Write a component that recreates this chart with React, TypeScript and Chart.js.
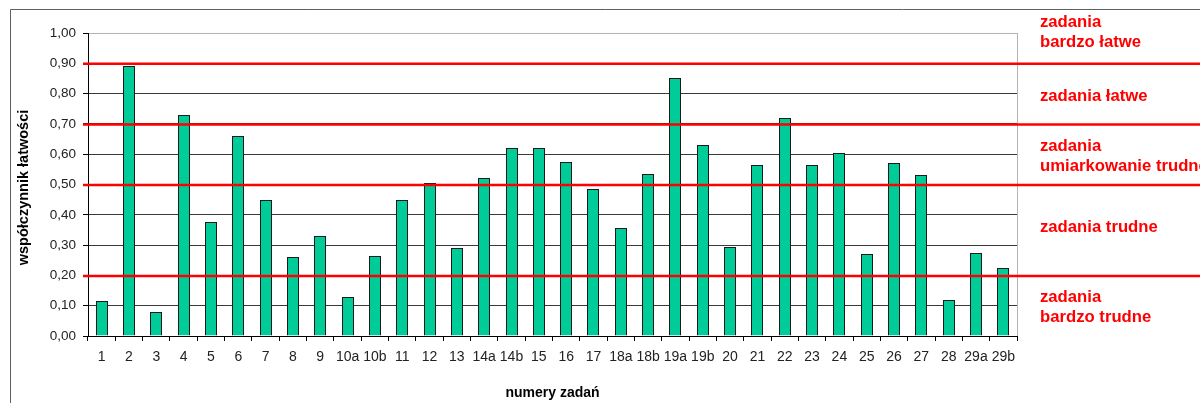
import React, { useEffect, useRef } from "react";
import { Chart, registerables } from "chart.js";

Chart.register(...registerables);

const CATEGORIES = [
  "1", "2", "3", "4", "5", "6", "7", "8", "9", "10a", "10b", "11", "12", "13",
  "14a", "14b", "15", "16", "17", "18a", "18b", "19a", "19b", "20", "21", "22",
  "23", "24", "25", "26", "27", "28", "29a", "29b",
];

const VALUES = [
  0.115, 0.89, 0.08, 0.73, 0.375, 0.66, 0.45, 0.26, 0.33, 0.13, 0.265, 0.45,
  0.505, 0.29, 0.52, 0.62, 0.62, 0.575, 0.485, 0.355, 0.535, 0.85, 0.63, 0.295,
  0.565, 0.72, 0.565, 0.605, 0.27, 0.57, 0.53, 0.12, 0.275, 0.225,
];

const THRESHOLDS = [0.9, 0.7, 0.5, 0.2];

const ZONE_LABELS = [
  ["zadania", "bardzo łatwe"],
  ["zadania łatwe"],
  ["zadania", "umiarkowanie trudne"],
  ["zadania trudne"],
  ["zadania", "bardzo trudne"],
];

const Y_TITLE = "współczynnik łatwości";
const X_TITLE = "numery zadań";

// layout constants (pixels)
const ZONE_LABEL_Y = [[22, 42], [96], [146, 166], [227], [297, 317]];
const ZONE_LABEL_X = 1040;
const FONT = "'Liberation Sans', Arial, sans-serif";
const BAR_W = 12;

const W = 1200;
const H = 403;

const overlayPlugin = {
  id: "overlay",
  beforeDraw(chart: any) {
    const ctx = chart.ctx;
    ctx.save();
    ctx.fillStyle = "#ffffff";
    ctx.fillRect(0, 0, W, H);
    ctx.strokeStyle = "#606060";
    ctx.lineWidth = 1;
    ctx.beginPath();
    ctx.moveTo(10.5, H);
    ctx.lineTo(10.5, 9.5);
    ctx.lineTo(W, 9.5);
    ctx.stroke();
    ctx.restore();
  },
  beforeDatasetsDraw(chart: any) {
    // snap bars to whole pixels for crisp borders
    const meta = chart.getDatasetMeta(0);
    meta.data.forEach((el: any) => {
      el.x = Math.round(el.x);
      el.y = Math.round(el.y);
      el.width = BAR_W;
    });
  },
  afterDatasetsDraw(chart: any) {
    const ctx = chart.ctx;
    const area = chart.chartArea;
    const y = chart.scales.y;
    ctx.save();
    ctx.strokeStyle = "#b4b4b4";
    ctx.lineWidth = 1;
    ctx.beginPath();
    ctx.moveTo(Math.round(area.right) + 0.5, area.top);
    ctx.lineTo(Math.round(area.right) + 0.5, area.bottom);
    ctx.stroke();
    ctx.strokeStyle = "#ff0000";
    ctx.lineWidth = 2.5;
    for (const v of THRESHOLDS) {
      const py = y.getPixelForValue(v) + 0.5;
      ctx.beginPath();
      ctx.moveTo(area.left - 5, py);
      ctx.lineTo(W, py);
      ctx.stroke();
    }
    ctx.fillStyle = "#ff0000";
    ctx.font = `bold 16.7px ${FONT}`;
    ctx.textAlign = "left";
    ctx.textBaseline = "middle";
    ZONE_LABELS.forEach((lines, i) => {
      lines.forEach((t, j) => {
        ctx.fillText(t, ZONE_LABEL_X, ZONE_LABEL_Y[i][j]);
      });
    });
    ctx.fillStyle = "#000000";
    ctx.font = `bold 14px ${FONT}`;
    ctx.textAlign = "center";
    ctx.textBaseline = "middle";
    ctx.fillText(X_TITLE, (area.left + area.right) / 2, 393);
    ctx.save();
    ctx.translate(24, (area.top + area.bottom) / 2 + 3);
    ctx.rotate(-Math.PI / 2);
    ctx.font = `bold 14.5px ${FONT}`;
    ctx.fillText(Y_TITLE, 0, 0);
    ctx.restore();
    ctx.restore();
  },
};

export default function App() {
  const ref = useRef<HTMLCanvasElement | null>(null);

  useEffect(() => {
    if (!ref.current) return;
    const chart = new Chart(ref.current, {
      type: "bar",
      data: {
        labels: CATEGORIES,
        datasets: [
          {
            data: VALUES,
            backgroundColor: "#00cc99",
            borderColor: "#1a1a1a",
            borderWidth: 1,
            categoryPercentage: 1,
            barPercentage: 0.44,
          },
        ],
      },
      options: {
        animation: false,
        responsive: false,
        devicePixelRatio: 1,
        layout: { padding: { top: 33, right: 183, bottom: 0, left: 0 } },
        plugins: {
          legend: { display: false },
          tooltip: { enabled: false },
          title: { display: false },
        },
        scales: {
          x: {
            afterFit: (s: any) => {
              s.height = 67;
            },
            grid: {
              offset: true,
              drawOnChartArea: false,
              drawTicks: true,
              tickLength: 5,
              tickColor: "#000000",
            },
            border: { color: "#000000", width: 1 },
            ticks: {
              color: "#222222",
              font: { family: FONT, size: 14 },
              padding: 8,
              maxRotation: 0,
              minRotation: 0,
              autoSkip: false,
            },
          },
          y: {
            min: 0,
            max: 1,
            afterFit: (s: any) => {
              s.width = 88;
            },
            grid: {
              color: (c: any) =>
                c.tick && Math.abs(c.tick.value - 1) < 1e-6
                  ? "#b4b4b4"
                  : c.tick && Math.abs(c.tick.value) < 1e-6
                  ? "#000000"
                  : "#3a3a3a",
              tickLength: 5,
              tickColor: "#000000",
            },
            border: { color: "#000000", width: 1 },
            ticks: {
              stepSize: 0.1,
              color: "#222222",
              font: { family: FONT, size: 13.5 },
              padding: 7,
              callback: (v: any) => Number(v).toFixed(2).replace(".", ","),
            },
          },
        },
      },
      plugins: [overlayPlugin],
    });
    return () => chart.destroy();
  }, []);

  return (
    <div style={{ position: "fixed", left: 0, top: 0, width: W, height: H, background: "#fff" }}>
      <canvas ref={ref} width={W} height={H} style={{ width: W, height: H, display: "block" }} />
    </div>
  );
}
